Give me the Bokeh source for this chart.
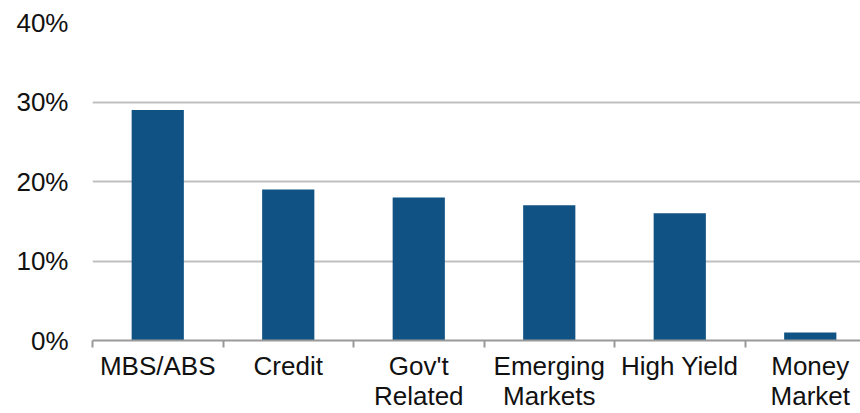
from bokeh.plotting import figure
from bokeh.models import Range1d, FixedTicker, NumeralTickFormatter, ColumnDataSource
from bokeh.embed import file_html
from bokeh.resources import INLINE

categories = ["MBS/ABS", "Credit", "Gov't\nRelated", "Emerging\nMarkets", "High Yield", "Money\nMarket"]
shares = [0.29, 0.19, 0.18, 0.17, 0.16, 0.01]
y_ticks = [0.0, 0.1, 0.2, 0.3, 0.4]

centers = [i + 0.5 for i in range(len(categories))]
bounds = [i for i in range(len(categories) + 1)]

src = ColumnDataSource(dict(x=centers, top=shares, name=categories))

p = figure(width=860, height=413, output_backend="svg", toolbar_location=None,
           x_range=Range1d(0, 5.885), y_range=Range1d(0, 0.40),
           min_border_left=92, min_border_right=0, min_border_top=22, min_border_bottom=73)
p.outline_line_color = None
p.background_fill_color = "white"
p.border_fill_color = "white"

p.vbar(x="x", top="top", width=0.4, source=src, fill_color="#0F5283", line_color=None)

FONT = "Liberation Sans"
FS = "26px"

# x axis
p.xaxis.ticker = FixedTicker(ticks=centers, minor_ticks=bounds)
p.xaxis.major_label_overrides = {c: n for c, n in zip(centers, categories)}
p.xaxis.major_tick_out = 0
p.xaxis.major_tick_in = 0
p.xaxis.minor_tick_out = 7
p.xaxis.minor_tick_in = 0
p.xaxis.minor_tick_line_color = "#999999"
p.xaxis.minor_tick_line_width = 2
p.xaxis.axis_line_color = "#999999"
p.xaxis.axis_line_width = 2
p.xaxis.major_label_standoff = 3
p.xaxis.major_label_text_font = FONT
p.xaxis.major_label_text_font_size = FS
p.xaxis.major_label_text_color = "#111111"
p.xaxis.major_label_text_line_height = 1.0

# y axis
p.yaxis.ticker = FixedTicker(ticks=y_ticks, minor_ticks=[])
p.yaxis.formatter = NumeralTickFormatter(format="0%")
p.yaxis.axis_line_color = None
p.yaxis.major_tick_line_color = None
p.yaxis.minor_tick_line_color = None
p.yaxis.major_label_standoff = 18
p.yaxis.major_label_text_font = FONT
p.yaxis.major_label_text_font_size = FS
p.yaxis.major_label_text_color = "#111111"

p.xgrid.grid_line_color = None
p.ygrid.grid_line_color = "#BFBFBF"
p.ygrid.grid_line_width = 2

open("out.html", "w").write(file_html(p, INLINE))
